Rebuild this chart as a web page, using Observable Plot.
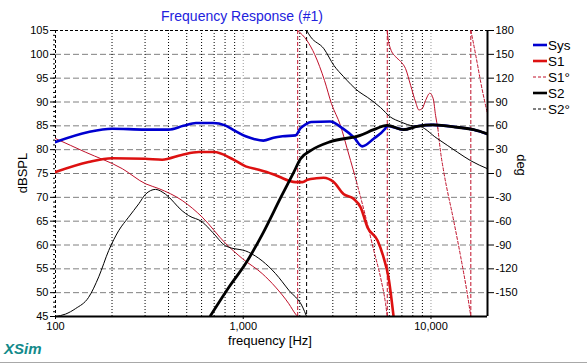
<!DOCTYPE html>
<html><head><meta charset="utf-8">
<script src="https://cdn.jsdelivr.net/npm/d3@7"></script>
<script src="https://cdn.jsdelivr.net/npm/@observablehq/plot@0.6"></script>
<style>
html,body{margin:0;padding:0;background:#fff;}
#chart{position:relative;width:587px;height:364px;}
</style></head><body><div id="chart"></div>
<script>
// ---- data (frequency Hz, dBSPL) ----
const sys = [[100,81.6],[150,83.7],[200,84.4],[300,84.2],[400,84.2],[480,85.0],[560,85.6],[690,85.6],[800,85.1],[900,84.0],[1030,82.8],[1150,82.2],[1280,81.9],[1450,82.5],[1620,82.8],[1900,83.0],[2020,84.5],[2150,85.3],[2300,85.8],[2900,85.9],[3400,84.4],[3900,82.5],[4300,80.7],[4950,82.3],[5700,84.4],[5850,85.0],[7150,84.2],[8450,84.9],[10300,85.2],[13800,84.7],[16900,84.2],[20000,83.3]];
const s1 = [[100,75.3],[150,77.4],[200,78.2],[300,78.1],[370,77.9],[470,78.9],[580,79.5],[700,79.5],[870,78.1],[1030,76.5],[1210,75.8],[1430,74.9],[1580,74.2],[1750,73.5],[1900,73.2],[2070,73.2],[2200,73.7],[2450,74.0],[2680,74.1],[3030,73.2],[3420,70.7],[3870,69.7],[4220,67.9],[4590,63.7],[5200,60.9],[5590,57.4],[5940,53.2],[6320,45]];
const s2 = [[670,45.2],[840,51.2],[1030,56.1],[1270,62.4],[1600,70.3],[1860,75.3],[2020,78.1],[2285,79.8],[2920,81.7],[4200,83.0],[4950,84.2],[5830,85.1],[7150,84.2],[8450,84.9],[10300,85.2],[13800,84.7],[16900,84.2],[20000,83.3]];
// ---- phase data (frequency Hz, deg), one array per unwrapped segment ----
const s1PhaseA = [[100,44],[144,27],[227,6],[302,-13],[355,-19],[473,-34],[605,-55],[805,-88],[988,-107],[1262,-126],[1486,-143],[1750,-164],[1900,-177],[1950,-180]];
const s1PhaseB = [[1950,180],[2190,167],[2400,150],[2710,117],[2950,88],[3300,60],[3580,31],[3880,2]];
const s1PhaseC = [[3880,2],[4220,-30],[4580,-63],[4960,-97],[5390,-131],[5730,-164],[5850,-180]];
const s1PhaseD = [[5850,180],[5890,172],[6090,157],[6480,147],[6890,141],[7320,132],[7790,111],[8280,90],[8620,80],[8990,82],[9360,92],[9860,101],[10280,94],[10580,73],[10880,57]];
const s1PhaseE = [[10880,57],[11250,27],[11700,2],[13200,-59],[14400,-105],[15600,-151],[16300,-180]];
const s1PhaseF = [[16300,180],[16700,168],[17600,140],[18400,115],[20000,75]];
const s1PhaseWraps = [1950, 5850, 16300];
const s2PhaseA = [[100,-180],[113,-177],[128,-170],[150,-156],[170,-130],[192,-97],[217,-72],[245,-55],[278,-38],[302,-26],[341,-20],[385,-26],[473,-47],[512,-53],[605,-61],[686,-74],[805,-91],[1067,-99],[1262,-110],[1486,-126],[1750,-147],[2070,-168],[2175,-180]];
const s2PhaseB = [[2175,180],[2285,172],[2690,157],[3040,136],[3420,122],[4130,103],[4580,96],[5390,83],[6090,71],[6890,65],[8110,60],[8450,60],[10800,44],[13800,27],[16300,16],[20000,6]];
const s2PhaseWraps = [2175];
// ---- axes ticks / labels ----
const dbTicks = d3.range(45, 106, 5);
const degTicks = d3.range(-150, 181, 30);
const freqTicks = [100, 1000, 10000];
const freqGrid = [200,300,400,500,600,700,800,900,2000,3000,4000,5000,6000,7000,8000,9000];
const freqGridMajor = [1000, 10000];
const legendItems = [
  {name:"Sys", color:"#0000d0", width:2.6, dash:null},
  {name:"S1", color:"#dd1111", width:2.6, dash:null},
  {name:"S1\u00b0", color:"#c0102a", width:1, dash:"3,2"},
  {name:"S2", color:"#000000", width:2.6, dash:null},
  {name:"S2\u00b0", color:"#000000", width:1, dash:"3,2"}
];

const degToDb = d => 75 + d / 6;
const rows = arr => arr.map(([f, v]) => ({f, v}));
const prow = arr => arr.map(([f, d]) => ({f, v: degToDb(d)}));
const curve = "monotone-x";

const red = "#dd1111", pred = "#c0102a", blue = "#0000d0";

const plot = Plot.plot({
  width: 587, height: 364,
  marginLeft: 55, marginRight: 100, marginTop: 30, marginBottom: 48,
  x: {type: "log", domain: [100, 20000]},
  y: {domain: [45, 105]},
  style: {fontFamily: "Arial, 'Liberation Sans', sans-serif", fontSize: "11px", background: "#fff", color: "#000"},
  marks: [
    Plot.ruleY(dbTicks.filter(d => d > 45 && d < 105), {stroke: "#808080", strokeWidth: 1, strokeDasharray: "6,3"}),
    Plot.ruleX(freqGrid, {stroke: "#000", strokeWidth: 1, strokeDasharray: "1,2"}),
    Plot.ruleX(freqGridMajor, {stroke: "#999", strokeWidth: 1, strokeDasharray: "1,2"}),
    Plot.ruleY([105], {stroke: "#000", strokeDasharray: "3,2"}),
    Plot.ruleX([100], {stroke: "#000", strokeDasharray: "3,2"}),
    // phase wraps
    Plot.ruleX(s1PhaseWraps, {stroke: pred, strokeWidth: 1, strokeDasharray: "4,2"}),
    Plot.ruleX(s2PhaseWraps, {stroke: "#000", strokeWidth: 1, strokeDasharray: "4,3"}),
    // phase curves
    ...[s1PhaseA, s1PhaseB, s1PhaseD].map(seg => Plot.line(prow(seg), {x: "f", y: "v", stroke: pred, strokeWidth: 1, curve, clip: true})),
    ...[s1PhaseC, s1PhaseE, s1PhaseF].map(seg => Plot.line(prow(seg), {x: "f", y: "v", stroke: pred, strokeWidth: 1, strokeDasharray: "3,2", curve, clip: true})),
    ...[s2PhaseA, s2PhaseB].map(seg => Plot.line(prow(seg), {x: "f", y: "v", stroke: "#000", strokeWidth: 1, curve, clip: true})),
    // magnitude curves
    Plot.line(rows(sys), {x: "f", y: "v", stroke: blue, strokeWidth: 2.6, curve, clip: true}),
    Plot.line(rows(s1), {x: "f", y: "v", stroke: red, strokeWidth: 2.6, curve, clip: true}),
    Plot.line(rows(s2), {x: "f", y: "v", stroke: "#000", strokeWidth: 2.8, curve, clip: true}),
    // frame bottom / right
    Plot.ruleY([45], {stroke: "#000", strokeWidth: 2}),
    Plot.ruleX([20000], {stroke: "#000", strokeWidth: 2}),
    // axes
    Plot.axisX({ticks: freqTicks, tickFormat: d3.format(","), tickSize: 3, tickPadding: 3, label: null}),
    Plot.axisY({ticks: dbTicks, tickSize: 5, tickPadding: 2, label: null}),
    Plot.axisY({ticks: d3.range(45, 106, 1), tickSize: 2, tickFormat: () => "", label: null}),
    Plot.axisY({anchor: "right", ticks: degTicks.map(degToDb), tickFormat: d => String(Math.round((d - 75) * 6)), tickSize: 6, tickPadding: 2, label: null})
  ]
});

document.getElementById("chart").appendChild(plot);
const svg = d3.select(plot);
const font = "Arial, 'Liberation Sans', sans-serif";

svg.append("text").attr("x", 242).attr("y", 21).attr("text-anchor", "middle")
  .attr("font-family", font).attr("font-size", 14).attr("fill", "#2222dd").text("Frequency Response (#1)");
svg.append("text").attr("transform", "translate(27,173) rotate(-90)").attr("text-anchor", "middle")
  .attr("font-family", font).attr("font-size", 13).attr("fill", "#000").text("dBSPL");
svg.append("text").attr("transform", "translate(517,165) rotate(90)").attr("text-anchor", "middle")
  .attr("font-family", font).attr("font-size", 13).attr("fill", "#000").text("deg");
svg.append("text").attr("x", 270).attr("y", 345).attr("text-anchor", "middle")
  .attr("font-family", font).attr("font-size", 13).attr("fill", "#000").text("frequency [Hz]");
svg.append("text").attr("x", 4).attr("y", 354).attr("text-anchor", "start")
  .attr("font-family", font).attr("font-size", 15).attr("font-weight", "bold").attr("font-style", "italic")
  .attr("fill", "#128a8a").text("XSim");
svg.append("line").attr("x1", 0).attr("x2", 587).attr("y1", 362.5).attr("y2", 362.5).attr("stroke", "#a8a8a8");

const lg = svg.append("g");
legendItems.forEach((it, i) => {
  const y = 45 + i * 16;
  const l = lg.append("line").attr("x1", 533).attr("x2", 547).attr("y1", y).attr("y2", y)
    .attr("stroke", it.color).attr("stroke-width", it.width);
  if (it.dash) l.attr("stroke-dasharray", it.dash);
  lg.append("text").attr("x", 548).attr("y", y + 5).attr("text-anchor", "start")
    .attr("font-family", font).attr("font-size", 13.5)
    .attr("fill", "#000").text(it.name);
});
</script></body></html>
